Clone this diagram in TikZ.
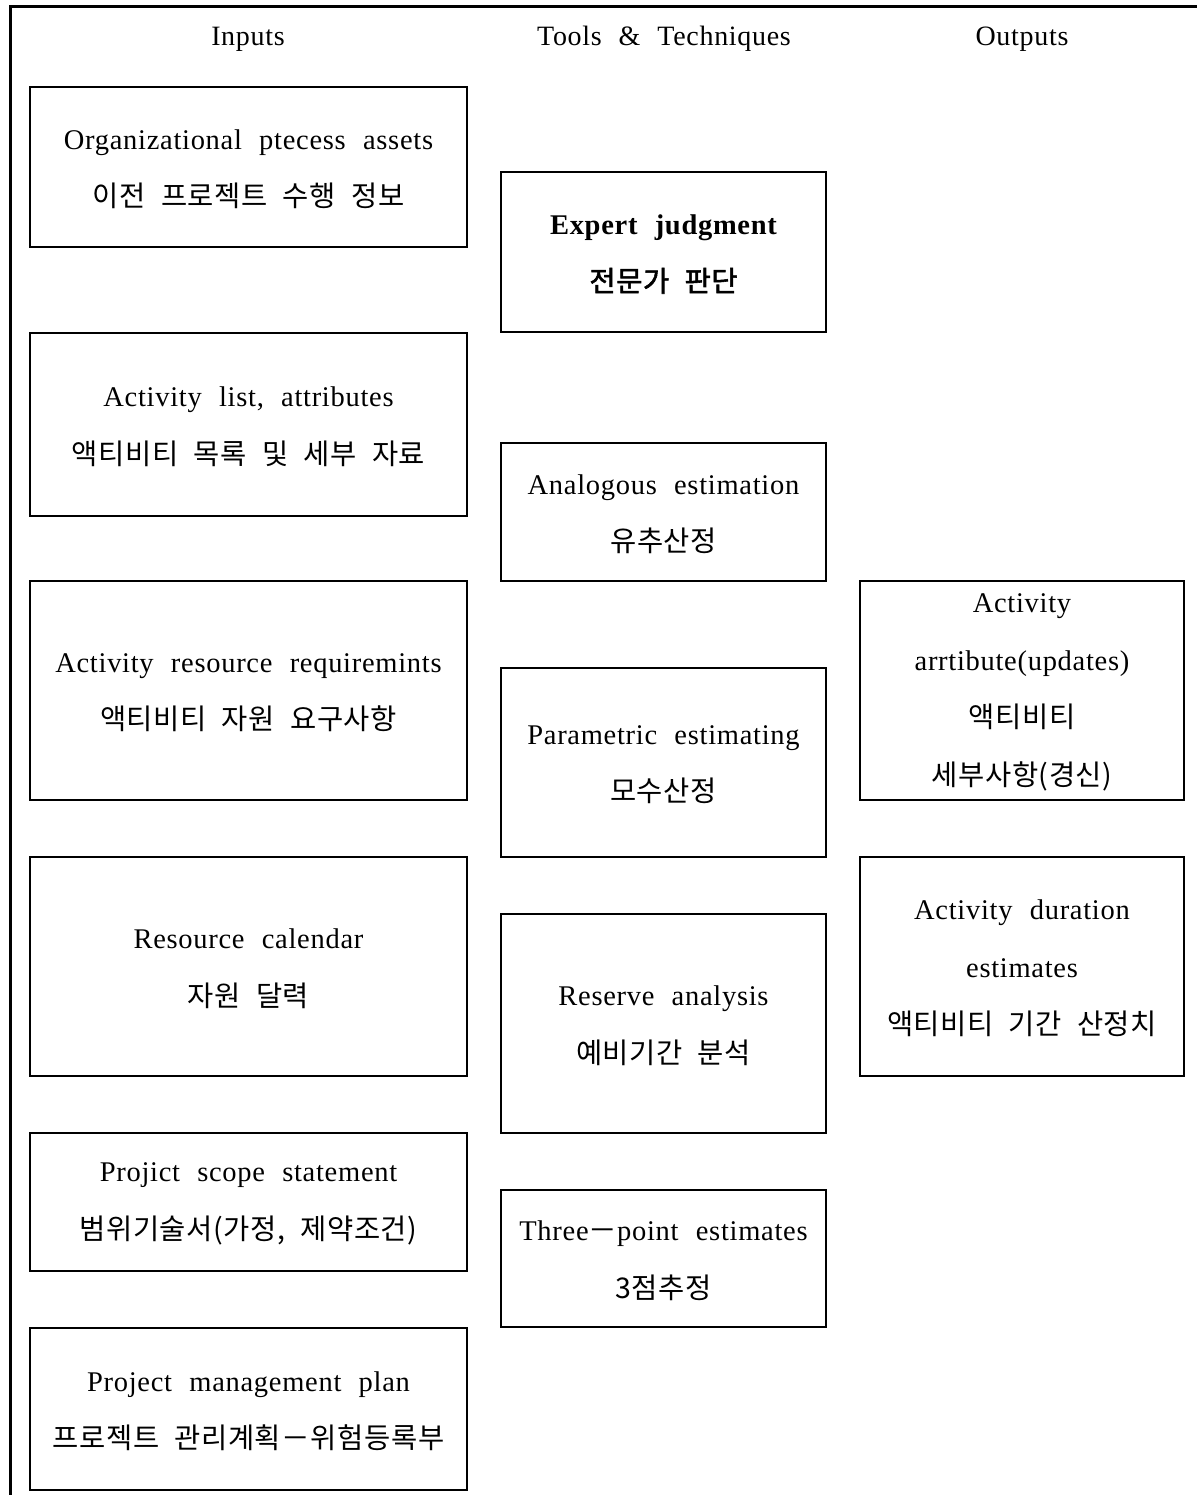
\documentclass[tikz,border=0pt]{standalone}
\usepackage{fontspec}
\setmainfont{Liberation Serif}[WordSpace=2.2, LetterSpace=2.5]
\newfontfamily\kr{Noto Sans CJK KR}[WordSpace=2.2, LetterSpace=2, AutoFakeBold=2]
\begin{document}
\begin{tikzpicture}[x=1pt, y=-1pt,
  frame/.style={draw, line width=2.8pt},
  boxtext/.style={align=center, inner sep=0pt,
    font=\fontsize{28.5}{57.5}\selectfont},
  head/.style={font=\fontsize{28}{32}\selectfont, inner sep=0pt}]
\useasboundingbox (0,0) rectangle (1196,1495);
% outer frame, open to the right and bottom
\draw[line width=3pt] (10,1500) -- (10,7) -- (1200,7);
% column titles
\node[head] (hin)  at (248,39) {Inputs};
\node[head] (htt)  at (664,39) {Tools \& Techniques};
\node[head] (hout) at (1022,39) {Outputs};
% box from corner (x1,y1) to corner (x2,y2), with a named text node inside
\newcommand\boxat[6]{%
  \draw[frame] (#1,#2) rectangle (#3,#4);
  \node[boxtext] (#5) at ({(#1+#3)/2},{(#2+#4)/2+2}) {#6};}
% inputs
\boxat{30}{87}{467}{247}{in1}{Organizational ptecess assets\\ \kr 이전 프로젝트 수행 정보}
\boxat{30}{333}{467}{516}{in2}{Activity list, attributes\\ \kr 액티비티 목록 및 세부 자료}
\boxat{30}{581}{467}{800}{in3}{Activity resource requiremints\\ \kr 액티비티 자원 요구사항}
\boxat{30}{857}{467}{1076}{in4}{Resource calendar\\ \kr 자원 달력}
\boxat{30}{1133}{467}{1271}{in5}{Projict scope statement\\ \kr 범위기술서(가정, 제약조건)}
\boxat{30}{1328}{467}{1490}{in6}{Project management plan\\ \kr 프로젝트 관리계획－위험등록부}
% tools and techniques
\boxat{501}{172}{826}{332}{tt1}{\bfseries Expert judgment\\ \kr\bfseries 전문가 판단}
\boxat{501}{443}{826}{581}{tt2}{Analogous estimation\\ \kr 유추산정}
\boxat{501}{668}{826}{857}{tt3}{Parametric estimating\\ \kr 모수산정}
\boxat{501}{914}{826}{1133}{tt4}{Reserve analysis\\ \kr 예비기간 분석}
\boxat{501}{1190}{826}{1327}{tt5}{Three{\kr －}point estimates\\ \kr 3점추정}
% outputs
\boxat{860}{581}{1184}{800}{out1}{Activity\\ arrtibute(updates)\\ \kr 액티비티\\ \kr 세부사항(경신)}
\boxat{860}{857}{1184}{1076}{out2}{Activity duration\\ estimates\\ \kr 액티비티 기간 산정치}
\end{tikzpicture}
\end{document}
